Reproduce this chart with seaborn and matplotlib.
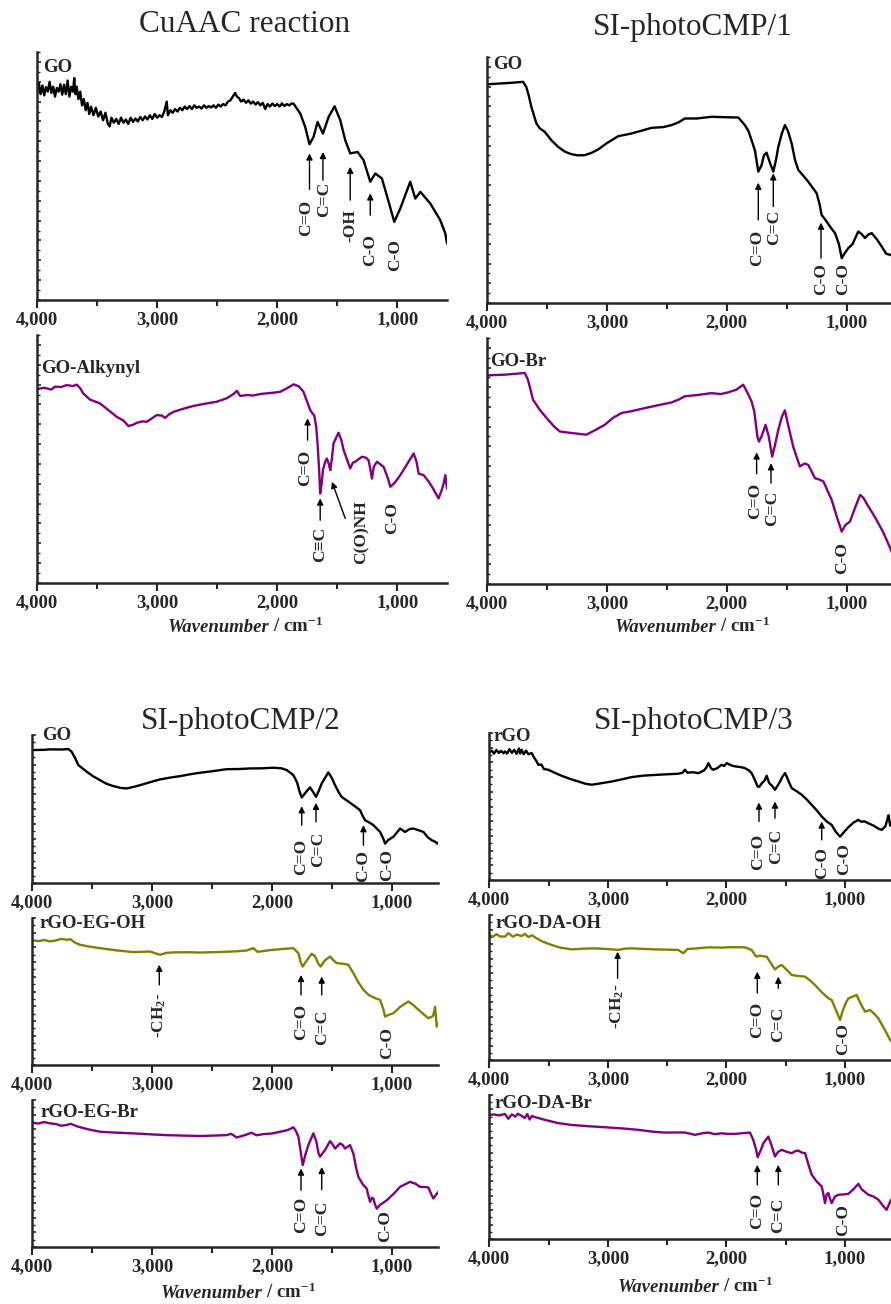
import matplotlib
matplotlib.use("Agg")
import matplotlib.pyplot as plt
import seaborn as sns
import pandas as pd
from matplotlib.ticker import MultipleLocator, FuncFormatter

# ---------------- data (wavenumber / cm-1, transmittance a.u.) ----------------
go_a_wn = [4000, 3985, 3970, 3955, 3940, 3925, 3910, 3895, 3880, 3865, 3850, 3835, 3820, 3805, 3790,
           3775, 3760, 3745, 3730, 3715, 3700, 3690, 3680, 3670, 3655, 3640, 3625, 3610, 3595, 3580,
           3565, 3550, 3530, 3510, 3490, 3470, 3450, 3430, 3410, 3395, 3380, 3360, 3340, 3320, 3300,
           3280, 3260, 3240, 3220, 3200, 3180, 3160, 3140, 3120, 3100, 3080, 3060, 3040, 3020, 3000,
           2980, 2960, 2940, 2920, 2910, 2890, 2870, 2850, 2830, 2810, 2790, 2770, 2750, 2730, 2710,
           2690, 2670, 2650, 2630, 2610, 2590, 2570, 2550, 2530, 2510, 2490, 2470, 2450, 2430, 2410,
           2390, 2370, 2350, 2335, 2320, 2300, 2280, 2260, 2240, 2220, 2200, 2180, 2160, 2140, 2120,
           2100, 2080, 2060, 2040, 2020, 2000, 1980, 1960, 1940, 1920, 1900, 1880, 1864, 1808, 1767,
           1731, 1697, 1664, 1619, 1572, 1522, 1475, 1433, 1392, 1331, 1281, 1225, 1183, 1128, 1072,
           1025, 975, 892, 850, 808, 725, 642, 600, 586]
go_a_val = [84.6, 87.5, 83.0, 86.5, 82.5, 85.8, 84.0, 88.0, 83.5, 86.0, 82.0, 85.5, 84.0, 87.0, 82.8,
            86.8, 83.0, 88.5, 82.0, 86.0, 84.0, 89.5, 83.0, 86.0, 81.0, 84.0, 78.5, 81.0, 76.5, 79.5,
            75.0, 78.0, 74.5, 77.5, 74.0, 76.0, 72.5, 75.5, 71.0, 70.0, 73.5, 71.5, 73.0, 71.0, 73.5,
            71.5, 72.8, 71.0, 73.5, 71.8, 73.2, 72.0, 73.8, 72.5, 74.0, 72.8, 74.5, 73.0, 75.0, 73.5,
            74.5, 73.8, 76.0, 80.0, 74.5, 76.5, 75.5, 77.0, 76.0, 77.5, 76.5, 78.0, 77.0, 78.2, 77.0,
            78.5, 77.5, 78.0, 77.2, 78.5, 77.5, 78.2, 77.6, 78.5, 77.5, 78.8, 78.0, 79.0, 78.5, 80.0,
            80.5, 82.0, 83.5, 82.0, 81.5, 80.0, 80.8, 79.5, 80.5, 79.2, 80.0, 78.8, 79.8, 78.5, 79.5,
            77.0, 79.0, 78.0, 79.2, 78.2, 79.0, 78.0, 79.3, 78.2, 79.0, 78.5, 79.2, 79.2, 75.2, 69.8,
            62.8, 65.8, 71.8, 67.1, 73.8, 78.1, 72.5, 64.4, 59.1, 59.7, 56.4, 47.7, 51.0, 49.0, 39.6,
            31.5, 36.9, 47.7, 40.9, 43.6, 38.9, 32.2, 26.8, 22.8]

alkynyl_wn = [4000, 3940, 3880, 3850, 3800, 3753, 3700, 3669, 3640, 3614, 3560, 3475, 3400, 3336, 3280,
              3239, 3200, 3169, 3120, 3086, 3040, 3003, 2960, 2933, 2900, 2864, 2780, 2697, 2600, 2503,
              2420, 2364, 2336, 2308, 2250, 2200, 2142, 2080, 2020, 1975, 1920, 1864, 1820, 1781, 1750,
              1725, 1700, 1692, 1675, 1664, 1650, 1642, 1630, 1619, 1600, 1586, 1570, 1558, 1545, 1531,
              1489, 1465, 1447, 1420, 1392, 1370, 1350, 1294, 1260, 1239, 1225, 1211, 1195, 1169, 1114,
              1080, 1058, 1020, 975, 930, 864, 840, 822, 781, 740, 711, 656, 630, 614, 600, 586]
alkynyl_val = [78.2, 78.7, 78.0, 79.2, 79.0, 79.8, 79.4, 80.0, 78.5, 76.4, 74.0, 72.4, 69.5, 67.0, 65.5,
               63.3, 63.8, 64.6, 65.2, 65.0, 66.5, 67.7, 67.5, 66.6, 68.0, 69.0, 70.3, 71.4, 72.3, 73.1,
               74.5, 76.2, 77.5, 75.4, 75.8, 75.6, 76.2, 76.5, 76.8, 77.1, 78.5, 80.1, 79.3, 77.1, 73.0,
               69.7, 68.0, 67.7, 63.0, 56.3, 45.0, 36.1, 40.0, 45.5, 49.0, 50.2, 48.0, 45.5, 50.0, 56.3,
               60.6, 57.5, 53.6, 50.0, 46.2, 48.5, 48.9, 50.9, 50.5, 49.5, 46.0, 42.1, 47.0, 48.9, 46.8,
               42.5, 38.8, 40.5, 43.5, 47.0, 52.2, 49.0, 44.1, 43.5, 41.0, 38.8, 34.1, 37.5, 40.1, 43.5, 38.1]

go_b_wn = [4000, 3900, 3800, 3699, 3672, 3650, 3630, 3588, 3560, 3519, 3460, 3407, 3350, 3296, 3240,
           3185, 3130, 3073, 3000, 2906, 2795, 2700, 2628, 2530, 2461, 2400, 2350, 2250, 2127, 2000,
           1904, 1849, 1820, 1793, 1765, 1737, 1710, 1690, 1668, 1640, 1612, 1590, 1570, 1540, 1515,
           1490, 1459, 1430, 1403, 1320, 1250, 1225, 1209, 1180, 1139, 1097, 1065, 1041, 1020, 986,
           950, 903, 875, 847, 820, 791, 750, 708, 670, 638, 600]
go_b_val = [88.9, 89.2, 89.5, 89.9, 87.8, 84.0, 79.7, 73.0, 71.0, 69.6, 66.0, 63.5, 61.5, 60.5, 60.0,
            60.1, 61.0, 62.4, 65.0, 67.8, 68.9, 70.2, 71.2, 71.5, 72.3, 73.5, 75.0, 75.0, 75.7, 75.5,
            75.4, 72.3, 70.0, 66.2, 62.0, 53.4, 56.0, 60.0, 61.1, 57.0, 53.4, 58.0, 63.5, 69.0, 72.3,
            70.0, 64.9, 58.0, 54.1, 49.3, 44.6, 40.0, 35.8, 34.0, 31.1, 28.4, 24.0, 18.2, 20.0, 22.3,
            24.0, 29.1, 28.0, 26.4, 27.8, 28.4, 26.0, 23.0, 20.0, 19.6, 19.0]

gobr_wn = [4000, 3900, 3852, 3750, 3685, 3658, 3616, 3560, 3491, 3440, 3393, 3282, 3171, 3100, 3018,
           2950, 2878, 2800, 2684, 2580, 2461, 2400, 2350, 2250, 2127, 2050, 1988, 1920, 1863, 1830,
           1793, 1770, 1745, 1732, 1710, 1676, 1650, 1621, 1600, 1570, 1540, 1515, 1490, 1446, 1420,
           1390, 1350, 1320, 1290, 1264, 1230, 1194, 1160, 1125, 1080, 1041, 1010, 972, 930, 888,
           860, 819, 780, 736, 700, 666, 630, 600]
gobr_val = [84.8, 85.0, 85.1, 85.5, 85.8, 83.0, 74.9, 70.8, 66.8, 64.0, 62.0, 61.3, 60.7, 62.5, 64.7,
            67.5, 69.5, 70.2, 71.5, 72.6, 73.8, 75.0, 76.3, 76.8, 77.6, 77.2, 77.9, 79.0, 81.0, 78.0,
            74.2, 70.0, 60.0, 57.9, 60.0, 64.7, 60.0, 51.8, 56.0, 62.7, 68.0, 70.6, 65.0, 55.9, 52.0,
            47.8, 49.0, 48.4, 45.5, 43.0, 42.5, 41.7, 38.0, 34.2, 27.0, 21.3, 24.0, 25.4, 31.0, 36.2,
            35.0, 31.5, 28.5, 24.7, 21.5, 17.9, 13.8, 10.0]

go_c_wn = [4000, 3900, 3852, 3750, 3699, 3672, 3640, 3616, 3546, 3490, 3435, 3380, 3324, 3260, 3212,
           3150, 3101, 3000, 2934, 2850, 2767, 2680, 2600, 2500, 2377, 2280, 2183, 2080, 1988, 1920,
           1876, 1821, 1790, 1770, 1751, 1720, 1682, 1660, 1632, 1610, 1584, 1529, 1500, 1473, 1440,
           1418, 1370, 1320, 1264, 1240, 1222, 1190, 1153, 1097, 1070, 1055, 1030, 986, 930, 888,
           850, 819, 770, 735, 700, 666, 640, 620, 611]
go_c_val = [89.8, 90.0, 90.3, 90.2, 90.5, 88.7, 84.0, 79.7, 75.2, 72.0, 69.5, 67.0, 65.5, 64.2, 63.9,
            65.0, 66.1, 68.5, 70.0, 71.2, 72.2, 73.5, 74.5, 75.5, 76.9, 77.0, 77.4, 77.5, 77.9, 77.5,
            76.3, 72.9, 68.0, 62.0, 57.8, 61.0, 64.6, 62.0, 58.2, 62.0, 67.3, 74.7, 71.0, 66.1, 61.0,
            58.2, 55.5, 52.6, 49.2, 45.0, 42.4, 41.0, 39.1, 34.5, 30.0, 26.6, 29.0, 31.2, 36.8, 34.5,
            36.5, 36.8, 35.5, 34.5, 31.0, 28.9, 28.0, 26.6, 27.5]

egoh_wn = [4000, 3950, 3900, 3852, 3800, 3760, 3713, 3680, 3650, 3602, 3520, 3435, 3300, 3157, 3018,
           2934, 2880, 2823, 2700, 2600, 2461, 2300, 2211, 2155, 2120, 2099, 2000, 1900, 1821, 1779,
           1760, 1743, 1710, 1668, 1640, 1610, 1593, 1560, 1515, 1490, 1459, 1400, 1362, 1320, 1280,
           1236, 1190, 1139, 1097, 1070, 1055, 1030, 986, 930, 861, 830, 791, 740, 694, 660,
           652, 638, 624, 611]
egoh_val = [84.7, 84.3, 85.0, 84.1, 84.8, 85.8, 85.2, 85.5, 83.5, 81.8, 80.5, 79.5, 78.0, 76.8, 77.2,
            75.0, 76.3, 76.6, 76.7, 76.5, 76.8, 77.3, 77.9, 79.5, 77.0, 77.2, 78.3, 79.0, 79.5, 76.1,
            70.0, 67.0, 71.0, 75.7, 74.0, 68.5, 67.0, 71.0, 73.8, 71.5, 69.3, 68.8, 68.2, 62.5, 56.5,
            51.1, 47.5, 45.5, 44.3, 38.0, 32.9, 34.0, 35.2, 39.5, 43.2, 41.5, 38.6, 35.0, 31.8, 33.0,
            34.1, 39.7, 26.1, 28.4]

egbr_wn = [4000, 3950, 3900, 3852, 3800, 3760, 3713, 3680, 3616, 3530, 3435, 3300, 3157, 3000, 2878,
           2740, 2600, 2480, 2377, 2340, 2294, 2230, 2169, 2130, 2071, 2000, 1932, 1870, 1821, 1800,
           1779, 1760, 1743, 1720, 1696, 1654, 1630, 1610, 1598, 1575, 1557, 1515, 1495, 1473, 1431,
           1410, 1390, 1348, 1320, 1300, 1278, 1240, 1209, 1195, 1180, 1166, 1153, 1140, 1125, 1100,
           1041, 980, 930, 880, 847, 800, 764, 720, 694, 670, 652, 630, 611]
egbr_val = [84.5, 84.0, 85.0, 84.1, 83.6, 82.5, 83.0, 83.8, 81.8, 80.0, 78.4, 77.8, 77.3, 76.6, 76.1,
            75.8, 75.5, 75.8, 76.1, 77.0, 74.5, 76.0, 77.7, 76.0, 76.8, 77.2, 78.4, 79.5, 81.4, 79.0,
            75.0, 65.0, 55.7, 63.0, 69.3, 77.3, 72.0, 63.5, 61.4, 64.0, 65.9, 72.0, 70.0, 67.0, 70.5,
            69.5, 67.0, 69.3, 63.6, 55.0, 47.7, 42.5, 39.8, 35.0, 30.7, 33.5, 33.0, 29.0, 26.1, 28.5,
            31.8, 36.5, 40.9, 43.0, 44.3, 43.0, 40.9, 40.8, 40.5, 36.0, 33.0, 35.5, 37.5]

rgo_wn = [4000, 3980, 3960, 3940, 3920, 3900, 3880, 3868, 3850, 3830, 3810, 3790, 3770, 3750, 3740,
          3727, 3710, 3690, 3670, 3643, 3620, 3600, 3587, 3560, 3540, 3502, 3450, 3390, 3320, 3249,
          3190, 3137, 3080, 3020, 2968, 2880, 2800, 2700, 2575, 2480, 2406, 2370, 2350, 2330, 2280,
          2237, 2190, 2170, 2153, 2130, 2111, 2080, 2040, 2020, 1998, 1960, 1928, 1880, 1844, 1810,
          1788, 1760, 1740, 1726, 1700, 1680, 1661, 1640, 1615, 1591, 1570, 1548, 1530, 1506, 1490,
          1470, 1450, 1410, 1366, 1320, 1281, 1240, 1197, 1150, 1113, 1080, 1042, 1010, 972, 930,
          888, 860, 840, 803, 760, 720, 691, 660, 645, 634, 620, 600]
rgo_val = [86.8, 88.0, 86.0, 88.5, 86.5, 87.8, 86.2, 87.5, 86.0, 89.0, 86.5, 88.5, 85.8, 89.5, 86.0,
           88.6, 85.5, 88.0, 85.5, 86.4, 83.0, 80.5, 78.4, 78.5, 75.5, 75.0, 73.0, 70.9, 68.8, 67.0,
           65.5, 64.8, 65.5, 66.3, 67.0, 68.5, 70.0, 71.0, 71.6, 72.0, 72.3, 73.0, 75.0, 73.0, 73.3,
           72.7, 74.5, 76.5, 79.5, 76.0, 75.0, 76.0, 78.4, 77.5, 79.5, 78.0, 77.3, 76.8, 76.1, 74.5,
           72.7, 68.0, 64.0, 63.2, 66.0, 67.5, 70.9, 66.0, 64.0, 61.4, 64.0, 67.0, 70.0, 72.7, 70.0,
           66.0, 62.5, 60.5, 58.0, 54.5, 51.1, 47.5, 43.2, 39.5, 37.5, 33.0, 29.5, 32.5, 35.9, 39.0,
           40.9, 39.5, 40.0, 38.6, 37.0, 35.0, 34.1, 36.5, 40.9, 44.0, 37.0, 40.0]

daoh_wn = [4000, 3970, 3940, 3910, 3868, 3840, 3800, 3770, 3727, 3700, 3670, 3640, 3615, 3560, 3474,
           3400, 3306, 3200, 3109, 3000, 2912, 2860, 2800, 2700, 2600, 2500, 2406, 2364, 2330, 2250,
           2153, 2050, 1950, 1844, 1788, 1760, 1746, 1720, 1690, 1661, 1620, 1591, 1560, 1534, 1490,
           1450, 1400, 1337, 1290, 1253, 1200, 1141, 1113, 1080, 1042, 1020, 990, 972, 902, 870,
           831, 789, 750, 719, 680, 649, 620, 600]
daoh_val = [86.2, 85.0, 86.8, 85.2, 85.1, 87.5, 85.0, 86.5, 85.5, 87.0, 84.8, 86.0, 84.6, 82.0, 79.3,
            77.5, 76.3, 76.8, 77.0, 76.5, 75.9, 76.8, 77.0, 76.6, 76.3, 76.1, 75.9, 73.6, 76.5, 77.0,
            77.7, 77.5, 77.8, 77.7, 75.9, 72.5, 71.3, 72.0, 71.5, 71.3, 66.0, 62.5, 64.5, 65.5, 62.0,
            58.6, 58.0, 57.5, 54.5, 51.7, 47.0, 42.6, 41.4, 35.0, 27.6, 34.0, 40.0, 42.5, 44.8, 39.0,
            33.3, 34.5, 31.5, 28.7, 23.0, 18.4, 13.8, 12.0]

dabr_wn = [4000, 3960, 3920, 3868, 3840, 3810, 3780, 3760, 3727, 3700, 3680, 3660, 3640, 3629, 3530,
           3420, 3306, 3160, 3024, 2880, 2743, 2620, 2519, 2400, 2350, 2300, 2265, 2200, 2153, 2100,
           2040, 1990, 1928, 1860, 1802, 1774, 1750, 1737, 1710, 1689, 1647, 1620, 1591, 1565, 1534,
           1490, 1450, 1420, 1394, 1365, 1337, 1310, 1281, 1240, 1197, 1185, 1169, 1155, 1141, 1127,
           1113, 1085, 1056, 1010, 972, 930, 888, 860, 803, 760, 719, 680, 649, 630, 612, 600]
dabr_val = [86.1, 86.5, 85.8, 86.8, 83.5, 86.5, 85.0, 87.0, 85.5, 84.0, 86.8, 83.0, 85.5, 85.0, 82.7,
            80.5, 79.2, 78.3, 77.6, 76.8, 75.8, 74.5, 73.9, 74.0, 73.9, 73.0, 72.3, 73.5, 73.9, 72.8,
            73.4, 73.0, 73.0, 73.5, 73.9, 68.8, 62.0, 56.8, 62.0, 66.5, 71.1, 65.0, 57.3, 60.5, 61.9,
            60.5, 59.6, 61.0, 61.4, 60.0, 59.6, 52.0, 44.6, 40.0, 36.5, 32.0, 24.9, 31.0, 31.9, 28.0,
            24.9, 29.5, 30.7, 31.0, 31.4, 34.5, 38.3, 34.5, 30.7, 29.5, 27.3, 23.0, 20.3, 24.0, 27.3, 26.0]

titles = ["CuAAC reaction", "SI-photoCMP/1", "SI-photoCMP/2", "SI-photoCMP/3"]
sample_names = ["GO", "GO-Alkynyl", "GO", "GO-Br", "GO", "rGO-EG-OH", "rGO-EG-Br",
                "rGO", "rGO-DA-OH", "rGO-DA-Br"]

BLACK, PURPLE, OLIVE = "#000000", "#800080", "#808000"

# ---------------- style ----------------
sns.set_style("ticks")
plt.rcParams["font.family"] = ["Liberation Serif", "DejaVu Serif"]
plt.rcParams["mathtext.fontset"] = "custom"
plt.rcParams["mathtext.rm"] = "Liberation Serif"
plt.rcParams["mathtext.it"] = "Liberation Serif:italic"
plt.rcParams["mathtext.bf"] = "Liberation Serif:bold"

W, H = 891, 1304
fig = plt.figure(figsize=(W / 100, H / 100), dpi=100)

def px(x, y):
    return x / W, 1 - y / H

def make_ax(l, t, r, b, xmin, dense):
    ax = fig.add_axes([l / W, 1 - b / H, (r - l) / W, (b - t) / H])
    ax.set_xlim(4000, xmin)
    ax.set_ylim(0, 100)
    for s in ["top", "right"]:
        ax.spines[s].set_visible(False)
    for s in ["left", "bottom"]:
        ax.spines[s].set_linewidth(1.8)
    ax.xaxis.set_major_locator(MultipleLocator(1000))
    ax.xaxis.set_minor_locator(MultipleLocator(500))
    ax.xaxis.set_major_formatter(FuncFormatter(lambda v, p: f"{v:,.0f}"))
    ax.yaxis.set_major_locator(MultipleLocator(10 if dense else 8))
    ax.yaxis.set_minor_locator(MultipleLocator(5 if dense else 4))
    ax.tick_params(axis="x", which="major", direction="out", length=6, width=1.5,
                   labelsize=13.5, pad=2)
    ax.tick_params(axis="x", which="minor", direction="out", length=4, width=1.5)
    ax.tick_params(axis="y", which="major", direction="in", length=3, width=1.2, labelleft=False)
    ax.tick_params(axis="y", which="minor", direction="in", length=2, width=1.0)
    return ax

def curve(ax, wn, val, color):
    df = pd.DataFrame({"wn": wn, "T": val})
    sns.lineplot(data=df, x="wn", y="T", ax=ax, color=color, linewidth=1.7,
                 sort=False, estimator=None)
    ax.set_xlabel("")
    ax.set_ylabel("")
    for lab in ax.get_xticklabels():
        lab.set_fontweight("bold")

def mark(ax, label, wn, head=None, tail=None, top=None, tx=None, fs=12.5):
    if head is not None:
        ax.annotate("", xy=(wn, head), xytext=(wn, tail),
                    arrowprops=dict(arrowstyle="-|>", color="k", lw=1.0,
                                    mutation_scale=9, shrinkA=0, shrinkB=0))
    ax.text(wn if tx is None else tx, top, label, rotation=90, ha="center", va="top",
            fontsize=fs, fontweight="bold")

def name(x, y, s):
    fig.text(*px(x, y), s, fontsize=13.5, fontweight="bold", va="baseline", ha="left")

def xlabel(split_x, y):
    fig.text(*px(split_x, y), "Wavenumber", fontsize=13.5, fontweight="bold",
             style="italic", ha="right", va="baseline")
    fig.text(*px(split_x, y), r" / cm$^{\mathbf{-1}}$", fontsize=13.5, fontweight="bold",
             ha="left", va="baseline")

# ---------------- panel A: CuAAC ----------------
a1 = make_ax(37, 52, 447, 300, 586, False)
curve(a1, go_a_wn, go_a_val, BLACK)
mark(a1, "C=O", 1731, 59.1, 44.6, 40.5, tx=1762)
mark(a1, "C=C", 1619, 59.7, 48.3, 47.7, tx=1612)
mark(a1, "-OH", 1392, 53.7, 40.3, 36.5)
mark(a1, "C-O", 1225, 43.0, 34.2, 26.8)
mark(a1, "C-O", 1017, top=24.4)

a2 = make_ax(37, 335, 447, 583, 586, False)
curve(a2, alkynyl_wn, alkynyl_val, PURPLE)
mark(a2, "C=O", 1747, 66.4, 57.6, 53.6, tx=1770)
mark(a2, "C≡C", 1642, 34.1, 25.3, 22.6)
a2.annotate("", xy=(1544, 40.8), xytext=(1433, 26.0),
            arrowprops=dict(arrowstyle="-|>", color="k", lw=1.0, mutation_scale=9,
                            shrinkA=0, shrinkB=0))
mark(a2, "C(O)NH", 1294, top=33.4)
mark(a2, "C-O", 1044, top=32.7)

# ---------------- panel B: SI-photoCMP/1 ----------------
b1 = make_ax(487, 57, 894.6, 303, 600, False)
curve(b1, go_b_wn, go_b_val, BLACK)
mark(b1, "C=O", 1737, 48.9, 33.8, 29.7, tx=1745)
mark(b1, "C=C", 1612, 52.7, 39.2, 37.8, tx=1606)
mark(b1, "C-O", 1214, 32.7, 18.2, 16.2)
mark(b1, "C-O", 1027, top=16.2)

b2 = make_ax(487, 338, 894.6, 584, 600, False)
curve(b2, gobr_wn, gobr_val, PURPLE)
mark(b2, "C=O", 1751, 53.5, 44.8, 41.0, tx=1760)
mark(b2, "C=C", 1631, 49.1, 41.0, 38.0, tx=1618)
mark(b2, "C-O", 1041, top=17.2)

# ---------------- panel C: SI-photoCMP/2 ----------------
c1 = make_ax(32.3, 735, 438.3, 883, 611, True)
curve(c1, go_c_wn, go_c_val, BLACK)
mark(c1, "C=O", 1751, 51.9, 39.1, 30.0, tx=1760)
mark(c1, "C=C", 1632, 54.2, 41.3, 34.5, tx=1618)
mark(c1, "C-O", 1236, 39.1, 25.5, 22.1)
mark(c1, "C-O", 1041, top=23.3)

c2 = make_ax(32.3, 918, 438.3, 1065, 611, True)
curve(c2, egoh_wn, egoh_val, OLIVE)
mark(c2, r"-CH$_\mathbf{2}$-", 2940, 68.2, 54.5, 49.1)
mark(c2, "C=O", 1757, 61.3, 47.7, 42.0)
mark(c2, "C=C", 1584, 60.2, 47.7, 37.5)
mark(c2, "C-O", 1041, top=26.1)

c3 = make_ax(32.3, 1100, 438.3, 1247, 611, True)
curve(c3, egbr_wn, egbr_val, PURPLE)
mark(c3, "C=O", 1757, 53.4, 38.6, 34.1)
mark(c3, "C=C", 1584, 54.5, 39.1, 31.8)
mark(c3, "C-O", 1055, top=25.0)

# ---------------- panel D: SI-photoCMP/3 ----------------
d1 = make_ax(489.3, 733, 892.5, 880, 600, True)
curve(d1, rgo_wn, rgo_val, BLACK)
mark(d1, "C=O", 1726, 52.7, 39.8, 31.8, tx=1735)
mark(d1, "C=C", 1591, 53.4, 42.0, 35.2, tx=1585)
mark(d1, "C-O", 1197, 39.8, 27.3, 22.7)
mark(d1, "C-O", 1006, top=25.0)

d2 = make_ax(489.3, 915, 892.5, 1060, 600, True)
curve(d2, daoh_wn, daoh_val, OLIVE)
mark(d2, r"-CH$_\mathbf{2}$-", 2918, 74.7, 56.3, 53.0)
mark(d2, "C=O", 1740, 60.9, 46.2, 40.2)
mark(d2, "C=C", 1563, 57.5, 49.4, 36.8)
mark(d2, "C-O", 1014, top=25.3)

d3 = make_ax(489.3, 1095, 892.5, 1239, 600, True)
curve(d3, dabr_wn, dabr_val, PURPLE)
mark(d3, "C=O", 1740, 51.5, 37.6, 31.9)
mark(d3, "C=C", 1563, 51.5, 37.6, 28.4)
mark(d3, "C-O", 1014, top=24.5)

# ---------------- titles, sample names, axis labels ----------------
for (cx, cy), t in zip([(245, 25), (693, 27), (241, 722), (694, 722)], titles):
    fig.text(*px(cx, cy), t, fontsize=22.5, ha="center", va="center")

for (x, y), s in zip([(43, 72), (41, 373), (493, 69), (490, 366), (42, 740), (39, 928),
                      (40, 1117), (493, 741), (495, 928), (494, 1108)], sample_names):
    name(x, y, s)

xlabel(269, 632)
xlabel(716, 632)
xlabel(262, 1298)
xlabel(719, 1292)

fig.savefig("out.png", dpi=100)
